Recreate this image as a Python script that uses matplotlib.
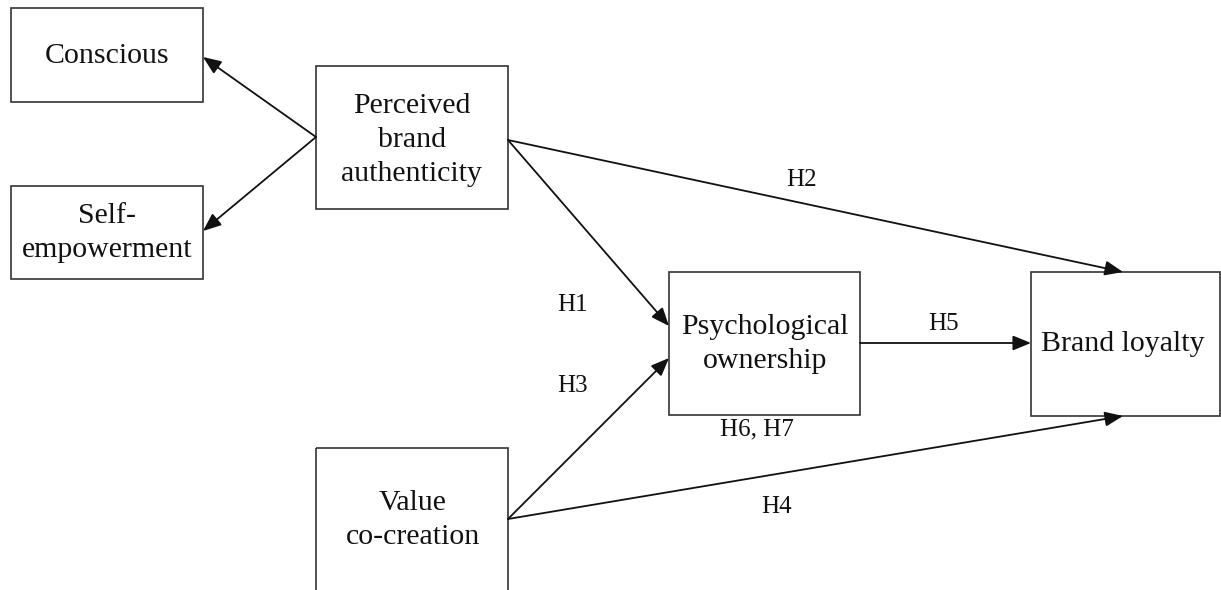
import matplotlib
matplotlib.use("Agg")
from matplotlib import pyplot as plt
from matplotlib.patches import Rectangle

# nodes of the model
names = ["Conscious", "Self-\nempowerment", "Perceived\nbrand\nauthenticity",
         "Psychological\nownership", "Brand loyalty", "Value\nco-creation"]
# box corners in pixel units (x0, y0, x1, y1), y grows downward
boxes = [(11, 8, 203, 102), (11, 186, 203, 279), (316, 66, 508, 209),
         (669, 272, 860, 415), (1031, 272, 1220, 416), (316, 448, 508, 600)]
text_pos = [(107, 56), (107, 233), (412, 140), (765, 344), (1123, 344), (413, 520)]

# arrows: start point -> end point
arrows = [((316, 137), (203, 57)), ((316, 137), (203, 231)),
          ((508, 140), (669, 326)), ((508, 140), (1123, 272)),
          ((860, 343), (1031, 343)), ((508, 519), (669, 358)),
          ((508, 519), (1123, 416))]

# hypothesis labels
hyp = ["H1", "H2", "H3", "H4", "H5", "H6, H7"]
hyp_pos = [(573, 305), (802, 180), (573, 386), (777, 507), (944, 324), (757, 429)]

plt.rcParams['font.family'] = ['Liberation Serif', 'DejaVu Serif']
fig = plt.figure(figsize=(12.21, 5.90), dpi=100)
ax = fig.add_axes([0, 0, 1, 1])
ax.set_xlim(0, 1221)
ax.set_ylim(590, 0)
ax.axis('off')

for (x0, y0, x1, y1) in boxes:
    ax.add_patch(Rectangle((x0, y0), x1 - x0, y1 - y0, fill=False,
                           edgecolor='#333333', linewidth=1.2))

for name, (x, y) in zip(names, text_pos):
    ax.text(x, y, name, ha='center', va='center', fontsize=21.5,
            linespacing=1.4, color='#111111')

for (a, b) in arrows:
    ax.annotate('', xy=b, xytext=a,
                arrowprops=dict(arrowstyle='-|>,head_length=1.1,head_width=0.45',
                                mutation_scale=10, color='#111111', lw=1.3,
                                shrinkA=0, shrinkB=0))

for h, (x, y) in zip(hyp, hyp_pos):
    ax.text(x, y, h, ha='center', va='center', fontsize=18, color='#111111')

fig.savefig('out.png', dpi=100)
